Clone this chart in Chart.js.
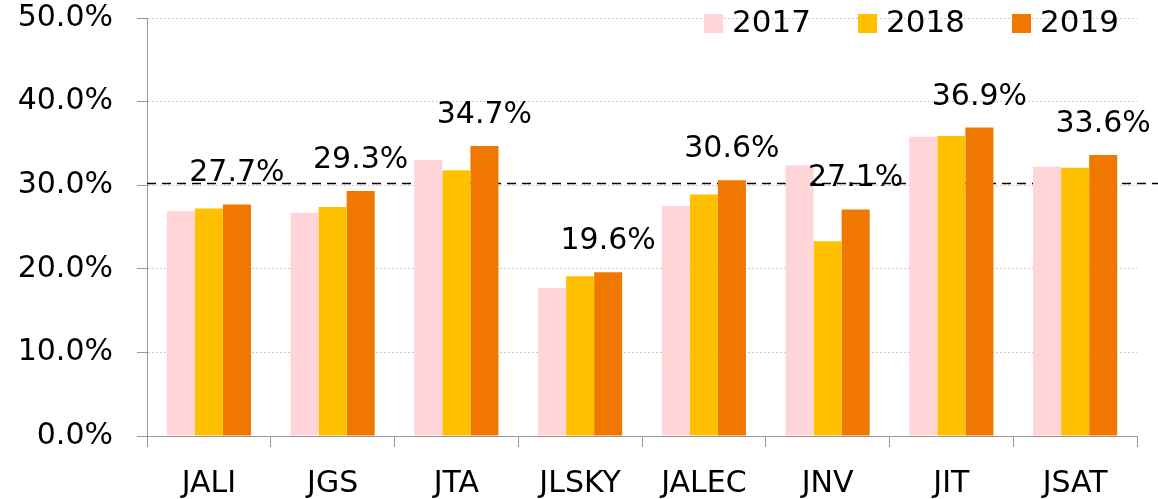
<!DOCTYPE html>
<html>
<head>
<meta charset="utf-8">
<script src="https://cdn.jsdelivr.net/npm/chart.js@4"></script>
<style>
  html, body { margin: 0; padding: 0; background: #fff; }
  #wrap { width: 1158px; height: 499px; position: relative; }
</style>
</head>
<body>
<div id="wrap"><canvas id="c"></canvas></div>
<script>
// data
const categories = ['JALI', 'JGS', 'JTA', 'JLSKY', 'JALEC', 'JNV', 'JIT', 'JSAT'];
const years = ['2017', '2018', '2019'];
const values2017 = [26.9, 26.7, 33.0, 17.7, 27.5, 32.4, 35.8, 32.2];
const values2018 = [27.2, 27.4, 31.8, 19.1, 28.9, 23.3, 35.9, 32.1];
const values2019 = [27.7, 29.3, 34.7, 19.6, 30.6, 27.1, 36.9, 33.6];
const averageLine = 30.3;
const yTicks = [0, 10, 20, 30, 40, 50];

const FONT = 'DejaVu Sans, Verdana, sans-serif';
const colors = { pink: '#FFD5D7', gold: '#FFC000', orange: '#F07800' };

// dashed reference line, drawn behind the bars
const avgLinePlugin = {
    id: 'avgLine',
    beforeDatasetsDraw(chart) {
        const { ctx, chartArea } = chart;
        const y = Math.round(chart.scales.y.getPixelForValue(averageLine)) + 0.5;
        ctx.save();
        ctx.strokeStyle = '#000';
        ctx.lineWidth = 1.5;
        ctx.setLineDash([9, 6]);
        ctx.beginPath();
        ctx.moveTo(chartArea.left, y);
        ctx.lineTo(chart.width, y);
        ctx.stroke();
        ctx.restore();
    }
};

// value labels above 2019 bars
const valueLabels = {
    id: 'valueLabels',
    afterDatasetsDraw(chart) {
        const { ctx } = chart;
        const meta = chart.getDatasetMeta(2);
        ctx.save();
        ctx.font = '30px ' + FONT;
        ctx.fillStyle = '#000';
        ctx.textAlign = 'center';
        ctx.textBaseline = 'alphabetic';
        meta.data.forEach((bar, i) => {
            ctx.fillText(values2019[i].toFixed(1) + '%', bar.x, bar.y - 23);
        });
        ctx.restore();
    }
};

// legend in the top right corner of the plot
const cornerLegend = {
    id: 'cornerLegend',
    afterDraw(chart) {
        const { ctx, chartArea } = chart;
        const swatch = [colors.pink, colors.gold, colors.orange];
        const startX = chartArea.right - 433;
        const step = 154;
        ctx.save();
        ctx.font = '31px ' + FONT;
        ctx.textBaseline = 'middle';
        ctx.textAlign = 'left';
        years.forEach((yr, i) => {
            const x = startX + i * step;
            ctx.fillStyle = swatch[i];
            ctx.fillRect(x, 14, 19, 19);
            ctx.fillStyle = '#000';
            ctx.fillText(yr, x + 28, 24);
        });
        ctx.restore();
    }
};

const barSet = (label, data, color) => ({
    label, data,
    backgroundColor: color,
    borderWidth: 0,
    categoryPercentage: 0.68,
    barPercentage: 1.0
});

new Chart(document.getElementById('c'), {
    type: 'bar',
    data: {
        labels: categories,
        datasets: [
            barSet(years[0], values2017, colors.pink),
            barSet(years[1], values2018, colors.gold),
            barSet(years[2], values2019, colors.orange)
        ]
    },
    options: {
        responsive: true,
        maintainAspectRatio: false,
        animation: false,
        layout: { padding: { top: 0, right: 21, left: 0, bottom: 0 } },
        plugins: {
            legend: { display: false },
            tooltip: { enabled: false }
        },
        scales: {
            x: {
                offset: true,
                grid: {
                    offset: true,
                    drawOnChartArea: false,
                    drawTicks: true,
                    tickLength: 11,
                    color: '#999'
                },
                border: { color: '#999', width: 1 },
                ticks: {
                    color: '#000',
                    padding: 19,
                    font: { family: FONT, size: 30 }
                },
                afterFit(scale) { scale.height = 63; }
            },
            y: {
                min: 0, max: 50,
                afterBuildTicks(scale) { scale.ticks = yTicks.map(v => ({ value: v })); },
                grid: {
                    color: '#F4B8C0',
                    tickColor: '#999',
                    tickLength: 10,
                    tickBorderDash: [],
                    lineWidth: 1
                },
                border: { color: '#999', width: 1, dash: [2, 2] },
                ticks: {
                    color: '#000',
                    padding: 24,
                    font: { family: FONT, size: 30 },
                    callback: v => v.toFixed(1) + '%'
                },
                afterFit(scale) {
                    scale.width = 147;
                    scale.paddingTop = 18;
                    scale.paddingBottom = 0;
                }
            }
        }
    },
    plugins: [avgLinePlugin, valueLabels, cornerLegend]
});
</script>
</body>
</html>
